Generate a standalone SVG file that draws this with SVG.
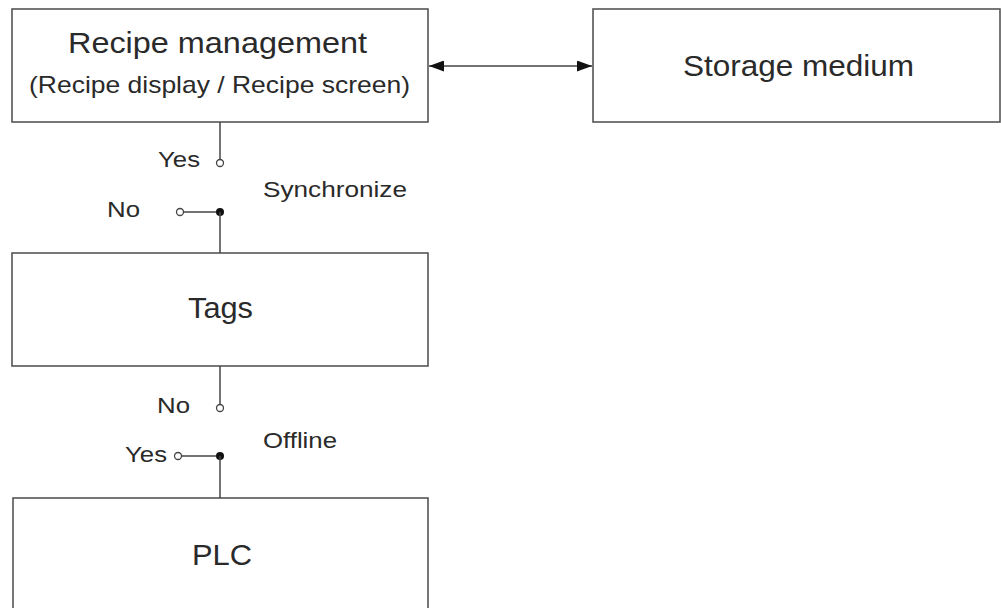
<svg xmlns="http://www.w3.org/2000/svg" width="1001" height="608" viewBox="0 0 1001 608">
<style>
.box{fill:#fff;stroke:#555;stroke-width:1.6}
.ln{stroke:#444;stroke-width:1.5;fill:none}
.t{font-family:"Liberation Sans",Arial,sans-serif;fill:#2a2a2a}
.big{font-size:29px}
.mid{font-size:24px}
.lab{font-size:22px}
.oc{fill:#fff;stroke:#444;stroke-width:1.3}
.fc{fill:#111}
</style>
<defs>
<marker id="ah" viewBox="0 0 15 11" refX="15" refY="5.5" markerWidth="15" markerHeight="11" markerUnits="userSpaceOnUse" orient="auto-start-reverse">
<path d="M0,0 L15,5.5 L0,11 z" fill="#111"/>
</marker>
</defs>
<rect width="1001" height="608" fill="#fff"/>
<g id="recipe">
<rect class="box" x="12" y="9" width="416" height="113"/>
<text class="t big" x="68" y="53" textLength="299" lengthAdjust="spacingAndGlyphs">Recipe management</text>
<text class="t mid" x="29" y="93" textLength="381" lengthAdjust="spacingAndGlyphs">(Recipe display / Recipe screen)</text>
</g>
<g id="storage">
<rect class="box" x="593" y="9" width="407" height="113"/>
<text class="t big" x="683" y="76" textLength="231" lengthAdjust="spacingAndGlyphs">Storage medium</text>
</g>
<g id="tags">
<rect class="box" x="12" y="253" width="416" height="113"/>
<text class="t big" x="188" y="318" textLength="65" lengthAdjust="spacingAndGlyphs">Tags</text>
</g>
<g id="plc">
<rect class="box" x="13" y="498" width="415" height="120"/>
<text class="t big" x="192" y="565" textLength="60" lengthAdjust="spacingAndGlyphs">PLC</text>
</g>
<g id="connectors">
<line class="ln" x1="429" y1="66" x2="592" y2="66" marker-start="url(#ah)" marker-end="url(#ah)"/>
<line class="ln" x1="220" y1="122" x2="220" y2="159.5"/>
<circle class="oc" cx="220" cy="163" r="3.5"/>
<line class="ln" x1="183.5" y1="212" x2="220" y2="212"/>
<circle class="oc" cx="180" cy="212" r="3.5"/>
<circle class="fc" cx="220" cy="212" r="4"/>
<line class="ln" x1="220" y1="212" x2="220" y2="253"/>
<line class="ln" x1="220" y1="366" x2="220" y2="404.5"/>
<circle class="oc" cx="220" cy="408" r="3.5"/>
<line class="ln" x1="181.5" y1="456" x2="220" y2="456"/>
<circle class="oc" cx="178" cy="456" r="3.5"/>
<circle class="fc" cx="220" cy="456" r="4"/>
<line class="ln" x1="220" y1="456" x2="220" y2="498"/>
</g>
<g id="labels">
<text class="t lab" x="158" y="167" textLength="42" lengthAdjust="spacingAndGlyphs">Yes</text>
<text class="t lab" x="107" y="217" textLength="33" lengthAdjust="spacingAndGlyphs">No</text>
<text class="t lab" x="263" y="197" textLength="144" lengthAdjust="spacingAndGlyphs">Synchronize</text>
<text class="t lab" x="157" y="413" textLength="33" lengthAdjust="spacingAndGlyphs">No</text>
<text class="t lab" x="263" y="448" textLength="74" lengthAdjust="spacingAndGlyphs">Offline</text>
<text class="t lab" x="125" y="462" textLength="42" lengthAdjust="spacingAndGlyphs">Yes</text>
</g>
</svg>
